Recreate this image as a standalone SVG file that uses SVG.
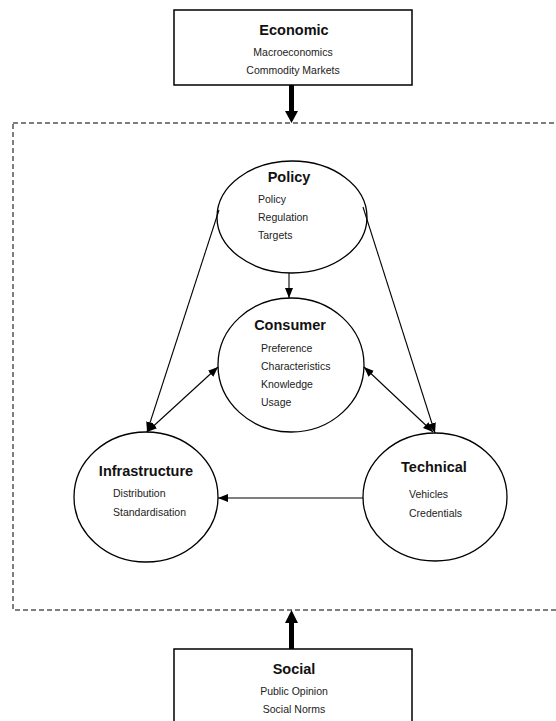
<svg xmlns="http://www.w3.org/2000/svg" width="556" height="721" viewBox="0 0 556 721">
  <defs>
    <style>
      .box { fill: #fff; stroke: #000; stroke-width: 1.5; }
      .node { fill: #fff; stroke: #000; stroke-width: 1.3; }
      .frame { fill: none; stroke: #555; stroke-width: 1.5; stroke-dasharray: 5 3; }
      .link { fill: none; stroke: #000; stroke-width: 1.1; }
      .title { font-family: "Liberation Sans", Arial, sans-serif; font-weight: bold; font-size: 14.5px; fill: #111; text-anchor: middle; }
      .item { font-family: "Liberation Sans", Arial, sans-serif; font-size: 10.5px; fill: #222; }
      .itemc { font-family: "Liberation Sans", Arial, sans-serif; font-size: 10.5px; fill: #222; text-anchor: middle; }
    </style>
    <marker id="head" viewBox="0 0 10 8" refX="10" refY="4" markerWidth="10" markerHeight="8" markerUnits="userSpaceOnUse" orient="auto-start-reverse">
      <path d="M0,0 L10,4 L0,8 z" fill="#000"/>
    </marker>
  </defs>

  <!-- system boundary -->
  <rect class="frame" x="13" y="123" width="560" height="487"/>

  <!-- external influences -->
  <g id="economic">
    <rect class="box" x="174" y="10" width="238" height="75"/>
    <text class="title" x="294" y="35">Economic</text>
    <text class="itemc" x="293" y="56">Macroeconomics</text>
    <text class="itemc" x="293" y="74">Commodity Markets</text>
  </g>

  <g id="social">
    <rect class="box" x="174" y="649" width="238" height="80"/>
    <text class="title" x="294" y="674">Social</text>
    <text class="itemc" x="294" y="695">Public Opinion</text>
    <text class="itemc" x="294" y="713">Social Norms</text>
  </g>

  <!-- internal nodes -->
  <g id="policy">
    <ellipse class="node" cx="292" cy="217" rx="75" ry="56"/>
    <text class="title" x="289" y="182">Policy</text>
    <text class="item" x="258" y="203">Policy</text>
    <text class="item" x="258" y="221">Regulation</text>
    <text class="item" x="258" y="239">Targets</text>
  </g>

  <g id="consumer">
    <ellipse class="node" cx="291" cy="365" rx="73" ry="67"/>
    <text class="title" x="290" y="330">Consumer</text>
    <text class="item" x="261" y="352">Preference</text>
    <text class="item" x="261" y="370">Characteristics</text>
    <text class="item" x="261" y="388">Knowledge</text>
    <text class="item" x="261" y="406">Usage</text>
  </g>

  <g id="infrastructure">
    <ellipse class="node" cx="146" cy="497" rx="72" ry="65"/>
    <text class="title" x="146" y="476">Infrastructure</text>
    <text class="item" x="113" y="497">Distribution</text>
    <text class="item" x="113" y="516">Standardisation</text>
  </g>

  <g id="technical">
    <ellipse class="node" cx="435" cy="497" rx="72" ry="64"/>
    <text class="title" x="434" y="472">Technical</text>
    <text class="item" x="409" y="498">Vehicles</text>
    <text class="item" x="409" y="517">Credentials</text>
  </g>

  <!-- connectors -->
  <g id="connectors">
    <path d="M289,85 L294,85 L294,111 L298,111 L291.5,123 L285,111 L289,111 z" fill="#000"/>
    <path d="M289,649 L294,649 L294,623 L298,623 L291.5,610 L285,623 L289,623 z" fill="#000"/>
    <line class="link" x1="289" y1="273" x2="289" y2="298" marker-end="url(#head)"/>
    <line class="link" x1="219" y1="210" x2="147" y2="432" marker-end="url(#head)"/>
    <line class="link" x1="363" y1="207" x2="435" y2="433" marker-end="url(#head)"/>
    <line class="link" x1="147" y1="432" x2="218" y2="367" marker-start="url(#head)" marker-end="url(#head)"/>
    <line class="link" x1="364" y1="367" x2="433" y2="432" marker-start="url(#head)" marker-end="url(#head)"/>
    <line class="link" x1="363" y1="498" x2="218" y2="498" marker-end="url(#head)"/>
  </g>
</svg>
